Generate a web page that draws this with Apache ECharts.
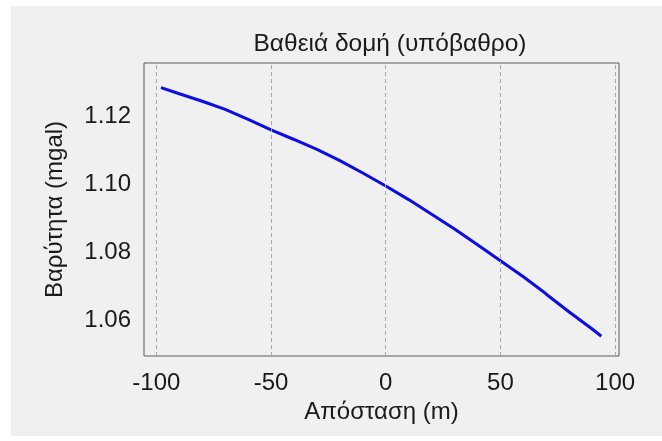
<!DOCTYPE html>
<html>
<head>
<meta charset="utf-8">
<script src="https://cdn.jsdelivr.net/npm/echarts@6/dist/echarts.min.js"></script>
<style>
  html, body { margin: 0; padding: 0; background: #fff; }
  #chart { width: 662px; height: 441px; }
</style>
</head>
<body>
<div id="chart"></div>
<script>
// values
var distance = [-98, -90, -80, -70, -60, -50, -40, -30, -20, -10, 0, 10, 20, 30, 40, 50, 60, 68, 70, 80, 90, 94];
var gravity = [1.1283, 1.1265, 1.1243, 1.1219, 1.1190, 1.1159, 1.1131, 1.1102, 1.1069, 1.1033, 1.0995, 1.0955, 1.0912, 1.0869, 1.0823, 1.0776, 1.0729, 1.0689, 1.0678, 1.0626, 1.0576, 1.0555];
var xTicks = [-100, -50, 0, 50, 100];
var yTicks = [1.06, 1.08, 1.10, 1.12];

var fontFam = 'Liberation Sans, Arial, sans-serif';

var chart = echarts.init(document.getElementById('chart'));
chart.setOption({
  backgroundColor: '#ffffff',
  animation: false,
  graphic: [{
    type: 'rect',
    z: -1,
    shape: { x: 11, y: 6, width: 651, height: 430 },
    style: { fill: '#f0f0f0' }
  }],
  title: {
    text: 'Βαθειά δομή (υπόβαθρο)',
    left: 385,
    top: 27,
    textAlign: 'center',
    textStyle: { fontFamily: fontFam, fontSize: 24.5, fontWeight: 'normal', color: '#1a1a1a' }
  },
  grid: {
    left: 144,
    top: 63,
    right: 43,
    bottom: 85,
    show: true,
    borderColor: '#5a5a5a',
    borderWidth: 1,
    backgroundColor: 'transparent'
  },
  xAxis: {
    type: 'value',
    min: -105.4,
    max: 101.7,
    name: 'Απόσταση (m)',
    nameLocation: 'middle',
    nameGap: 42,
    nameTextStyle: { fontFamily: fontFam, fontSize: 24, color: '#1a1a1a' },
    axisLine: { show: false },
    axisTick: { show: false },
    splitLine: { show: false },
    axisLabel: {
      customValues: xTicks,
      margin: 15,
      fontFamily: fontFam,
      fontSize: 24,
      color: '#1a1a1a'
    }
  },
  yAxis: {
    type: 'value',
    min: 1.0497,
    max: 1.1355,
    name: 'Βαρύτητα (mgal)',
    nameLocation: 'middle',
    nameGap: 77,
    nameTextStyle: { fontFamily: fontFam, fontSize: 24, color: '#1a1a1a' },
    axisLine: { show: false },
    axisTick: { show: false },
    splitLine: { show: false },
    axisLabel: {
      customValues: yTicks,
      margin: 13,
      fontFamily: fontFam,
      fontSize: 24,
      color: '#1a1a1a',
      formatter: function (v) { return v.toFixed(2); }
    }
  },
  series: [{
    type: 'line',
    data: distance.map(function (d, i) { return [d, gravity[i]]; }),
    showSymbol: false,
    smooth: false,
    lineStyle: { color: '#0c0ce4', width: 3 },
    markLine: {
      silent: true,
      symbol: ['none', 'none'],
      label: { show: false },
      lineStyle: { color: '#a8a8a8', type: [4, 3], width: 1 },
      data: xTicks.map(function (t) { return { xAxis: t }; })
    }
  }]
});
</script>
</body>
</html>
